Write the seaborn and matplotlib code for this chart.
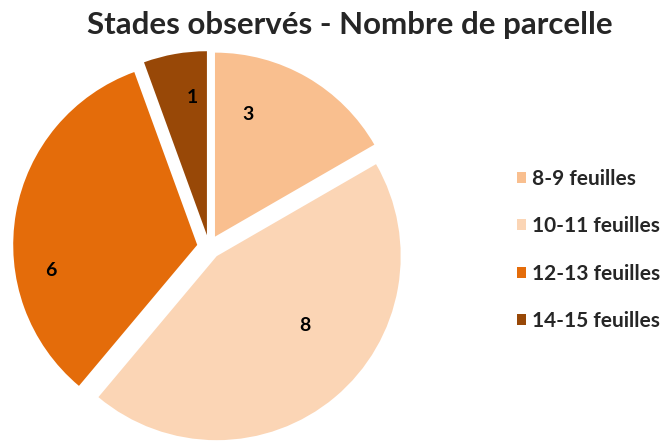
import matplotlib
matplotlib.use("Agg")
import numpy as np
import matplotlib.pyplot as plt
import seaborn as sns

# data
stades = ["8-9 feuilles", "10-11 feuilles", "12-13 feuilles", "14-15 feuilles"]
parcelles = [3, 8, 6, 1]
couleurs = ["#F9BF8F", "#FBD5B5", "#E46C0A", "#984807"]

# where Excel put the value labels (angle offset from wedge middle, radius)
lab_dtheta = [15, 12, 20, -4]
lab_r = [0.69, 0.61, 0.81, 0.75]

sns.set_theme(style="white")
plt.rcParams["font.family"] = ["Lato", "DejaVu Sans"]

fig = plt.figure(figsize=(6.62, 4.41), dpi=100)
# square axes, pie radius 1 ~ 184 px
R = 184
half = 1.2 * R
cx, cy = 209, 441 - 247
ax = fig.add_axes([(cx - half) / 662, (cy - half) / 441, 2 * half / 662, 2 * half / 441])

wedges, texts, autotexts = ax.pie(
    parcelles,
    colors=couleurs,
    startangle=90,
    counterclock=False,
    explode=[0.065] * len(parcelles),
    autopct=lambda p: f"{round(p * sum(parcelles) / 100):d}",
    wedgeprops=dict(linewidth=0),
    textprops=dict(fontsize=14, fontweight="bold", color="black"),
)
for w, t, d, r in zip(wedges, autotexts, lab_dtheta, lab_r):
    ang = np.deg2rad((w.theta1 + w.theta2) / 2 + d)
    x0, y0 = w.center
    t.set_position((x0 + r * np.cos(ang), y0 + r * np.sin(ang)))

ax.set_xlim(-1.2, 1.2)
ax.set_ylim(-1.2, 1.2)
ax.set_aspect("equal")
ax.axis("off")

fig.suptitle("Stades observés - Nombre de parcelle", x=0.529, y=0.975,
             fontsize=22.5, fontweight="bold")

leg = fig.legend(wedges, stades, loc="center left", bbox_to_anchor=(0.752, 0.433),
                 frameon=False, handlelength=0.43, handleheight=0.43,
                 handletextpad=0.3, labelspacing=1.32,
                 prop=dict(size=15, weight="bold"))

plt.savefig("out.png", dpi=100)
plt.close()
